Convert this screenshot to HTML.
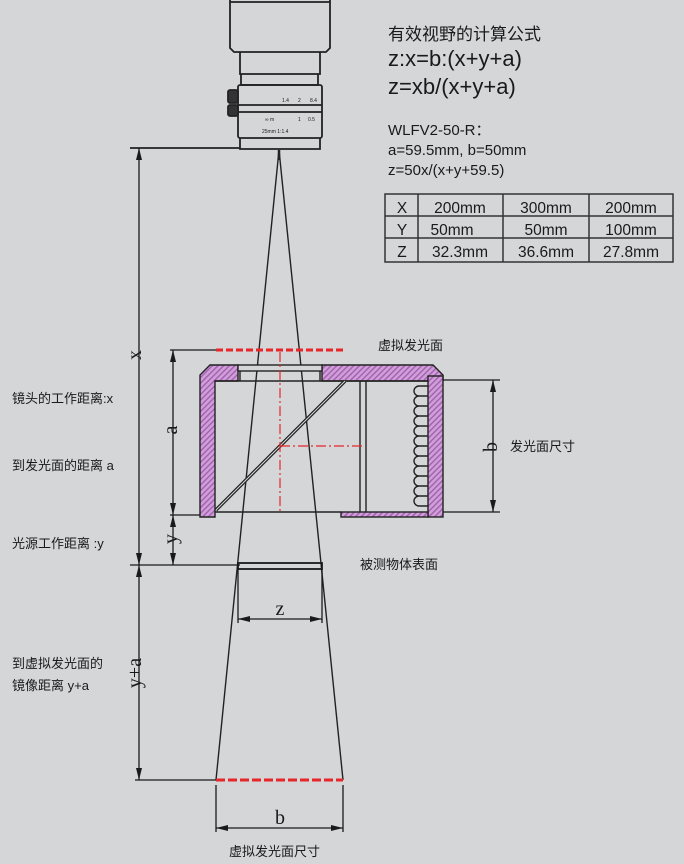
<!DOCTYPE html>
<html><head><meta charset="utf-8"><style>
html,body{margin:0;padding:0;background:#d5d6d7;}
svg{display:block;}
text{font-family:"Liberation Sans","Noto Sans CJK SC",sans-serif;fill:#1a1a1a;}
.serif{font-family:"Liberation Serif",serif;}
</style></head><body>
<svg width="684" height="864" viewBox="0 0 684 864" xmlns="http://www.w3.org/2000/svg">
<defs>
<pattern id="h" width="4" height="4" patternUnits="userSpaceOnUse" patternTransform="rotate(45)">
<rect width="4" height="4" fill="#cf9fd8"/><rect width="1.4" height="4" fill="#a35fb0"/>
</pattern>
<marker id="ar" markerWidth="12" markerHeight="6" refX="12" refY="3" orient="auto" markerUnits="userSpaceOnUse"><path d="M0,0 L12,3 L0,6 Z" fill="#1a1a1a"/></marker>
<marker id="al" markerWidth="12" markerHeight="6" refX="0" refY="3" orient="auto" markerUnits="userSpaceOnUse"><path d="M12,0 L0,3 L12,6 Z" fill="#1a1a1a"/></marker>
</defs>
<rect width="684" height="864" fill="#d5d6d7"/>
<g stroke="#222" fill="none" stroke-width="1.8">
<path d="M230,0 V48 L234,52 H326 L330,48 V0"/>
<line x1="230" y1="2" x2="330" y2="2"/>
<path d="M240,52 V74 H320 V52"/>
<path d="M241,74 V85 H318 V74"/>
<rect x="238" y="85" width="84" height="53" rx="2"/>
<line x1="238" y1="105" x2="322" y2="105"/><line x1="238" y1="112" x2="322" y2="112"/>
<rect x="228" y="90" width="10" height="13" rx="2" fill="#333"/>
<rect x="228" y="105" width="10" height="11" rx="2" fill="#333"/>
<path d="M240,138 V149 H320 V138"/>
<line x1="130" y1="148" x2="240" y2="148"/>
<line x1="279" y1="150" x2="279" y2="160" stroke-width="2.5"/>
</g>
<g fill="#333" font-size="5"><text x="282" y="102">1.4</text><text x="298" y="102">2</text><text x="310" y="102">8.4</text><text x="265" y="121">∞ m</text><text x="298" y="121">1</text><text x="308" y="121">0.5</text><text x="262" y="133">25mm 1:1.4</text></g>
<g stroke="#222" stroke-width="1.4" fill="none">
<line x1="279" y1="150" x2="216" y2="780"/><line x1="279" y1="150" x2="343" y2="780"/>
</g>
<g stroke="#222" stroke-width="1.4" fill="url(#h)">
<path d="M210,365 H238 V381 H215 V517 H200 V375 Z"/>
<path d="M322,365 H433 L443,375 V380 H428 V381 H322 Z"/>
<rect x="428" y="376" width="15" height="141"/>
<rect x="341" y="512" width="87" height="5"/>
</g>
<g stroke="#222" stroke-width="1.4" fill="none">
<rect x="238" y="365" width="84" height="6" fill="#d5d6d7"/>
<path d="M240,371 V381 M320,371 V381"/>
<line x1="215" y1="381" x2="428" y2="381"/>
<line x1="215" y1="512" x2="341" y2="512"/>
<line x1="216" y1="510" x2="345" y2="381" stroke-width="3.5"/>
<line x1="216" y1="510" x2="345" y2="381" stroke="#d5d6d7" stroke-width="1"/>
<line x1="360" y1="381" x2="360" y2="512"/><line x1="366" y1="381" x2="366" y2="512"/>
<path d="M428,386 H419 A4.5,4.5 0 0 0 419,396 H428 M428,396 H419 A4.5,4.5 0 0 0 419,406 H428 M428,406 H419 A4.5,4.5 0 0 0 419,416 H428 M428,416 H419 A4.5,4.5 0 0 0 419,426 H428 M428,426 H419 A4.5,4.5 0 0 0 419,436 H428 M428,436 H419 A4.5,4.5 0 0 0 419,446 H428 M428,446 H419 A4.5,4.5 0 0 0 419,456 H428 M428,456 H419 A4.5,4.5 0 0 0 419,466 H428 M428,466 H419 A4.5,4.5 0 0 0 419,476 H428 M428,476 H419 A4.5,4.5 0 0 0 419,486 H428 M428,486 H419 A4.5,4.5 0 0 0 419,496 H428 M428,496 H419 A4.5,4.5 0 0 0 419,506 H428"/>
</g>
<g stroke="#e8262a" fill="none">
<line x1="216" y1="350" x2="344" y2="350" stroke-width="3" stroke-dasharray="7,3"/>
<line x1="216" y1="780" x2="343" y2="780" stroke-width="3" stroke-dasharray="9,3"/>
<line x1="280" y1="352" x2="280" y2="512" stroke-width="1.2" stroke-dasharray="10,3,2,3"/>
<line x1="280" y1="446" x2="362" y2="446" stroke-width="1.2" stroke-dasharray="10,3,2,3"/>
</g>
<g stroke="#1a1a1a" stroke-width="1.3" fill="none">
<line x1="139" y1="148" x2="139" y2="565" marker-start="url(#al)" marker-end="url(#ar)"/>
<line x1="130" y1="565" x2="240" y2="565"/>
<line x1="139" y1="565" x2="139" y2="780" marker-start="url(#al)" marker-end="url(#ar)"/>
<line x1="135" y1="780" x2="216" y2="780"/>
<line x1="170" y1="350" x2="216" y2="350"/>
<line x1="173" y1="350" x2="173" y2="515" marker-start="url(#al)" marker-end="url(#ar)"/>
<line x1="170" y1="515" x2="200" y2="515"/>
<line x1="173" y1="515" x2="173" y2="565" marker-start="url(#al)" marker-end="url(#ar)"/>
<line x1="443" y1="380" x2="500" y2="380"/><line x1="443" y1="512" x2="500" y2="512"/>
<line x1="493" y1="380" x2="493" y2="512" marker-start="url(#al)" marker-end="url(#ar)"/>
<rect x="238" y="563" width="84" height="6" stroke-width="1.8"/>
<line x1="238" y1="569" x2="238" y2="623"/><line x1="322" y1="569" x2="322" y2="623"/>
<line x1="238" y1="619" x2="322" y2="619" marker-start="url(#al)" marker-end="url(#ar)"/>
<line x1="216" y1="785" x2="216" y2="832"/><line x1="343" y1="785" x2="343" y2="832"/>
<line x1="216" y1="828" x2="343" y2="828" marker-start="url(#al)" marker-end="url(#ar)"/>
</g>
<g class="serif" font-size="20">
<text class="serif" x="134" y="362" transform="rotate(-90 134 355)" text-anchor="middle">x</text>
<text class="serif" x="170" y="437" transform="rotate(-90 170 430)" text-anchor="middle">a</text>
<text class="serif" x="170" y="546" transform="rotate(-90 170 539)" text-anchor="middle">y</text>
<text class="serif" x="134" y="680" transform="rotate(-90 134 673)" text-anchor="middle">y+a</text>
<text class="serif" x="490" y="454" transform="rotate(-90 490 447)" text-anchor="middle">b</text>
<text class="serif" x="280" y="615" text-anchor="middle">z</text>
<text class="serif" x="280" y="824" text-anchor="middle">b</text>
</g>
<g font-size="13">
<text x="12" y="403">镜头的工作距离:x</text>
<text x="12" y="470">到发光面的距离 a</text>
<text x="12" y="548">光源工作距离 :y</text>
<text x="12" y="668">到虚拟发光面的</text>
<text x="12" y="690">镜像距离 y+a</text>
<text x="378" y="350">虚拟发光面</text>
<text x="510" y="451">发光面尺寸</text>
<text x="360" y="569">被测物体表面</text>
<text x="229" y="856">虚拟发光面尺寸</text>
</g>
<text x="388" y="40" font-size="17">有效视野的计算公式</text>
<text x="388" y="66" font-size="22">z:x=b:(x+y+a)</text>
<text x="388" y="94" font-size="22">z=xb/(x+y+a)</text>
<text x="388" y="135" font-size="15">WLFV2-50-R：</text>
<text x="388" y="155" font-size="15">a=59.5mm, b=50mm</text>
<text x="388" y="175" font-size="15">z=50x/(x+y+59.5)</text>
<g stroke="#333" stroke-width="1.5" fill="none">
<rect x="385" y="194" width="288" height="68"/>
<line x1="385" y1="216" x2="673" y2="216"/><line x1="385" y1="238" x2="673" y2="238"/>
<line x1="418" y1="194" x2="418" y2="262"/><line x1="503" y1="194" x2="503" y2="262"/><line x1="589" y1="194" x2="589" y2="262"/>
</g>
<g font-size="15.5" text-anchor="middle">
<text x="402" y="213">X</text><text x="460" y="213">200mm</text><text x="546" y="213">300mm</text><text x="631" y="213">200mm</text>
<text x="402" y="235">Y</text><text x="452" y="235">50mm</text><text x="546" y="235">50mm</text><text x="631" y="235">100mm</text>
<text x="402" y="257">Z</text><text x="460" y="257">32.3mm</text><text x="546" y="257">36.6mm</text><text x="631" y="257">27.8mm</text>
</g>
</svg>
</body></html>
